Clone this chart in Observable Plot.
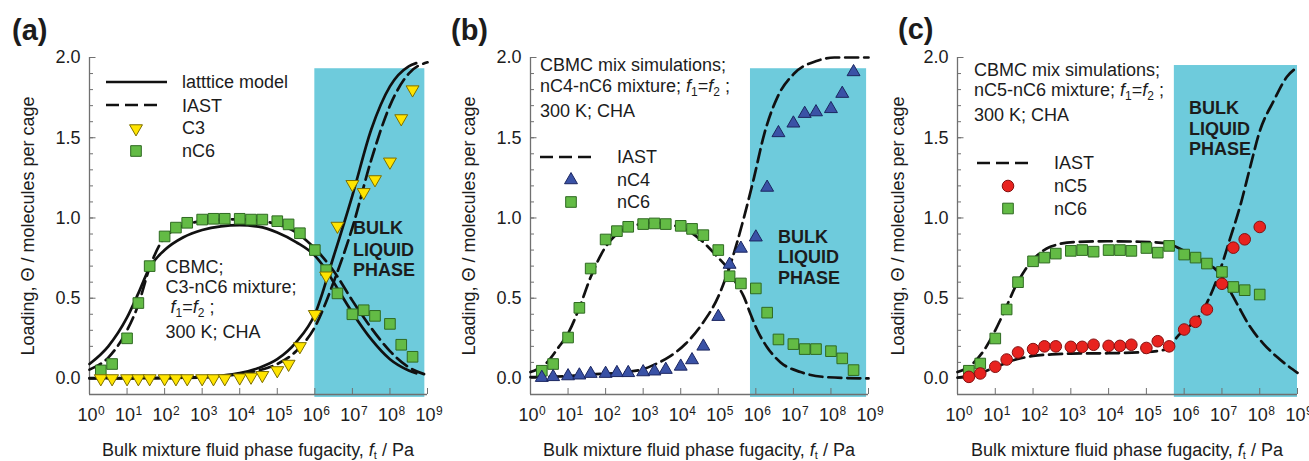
<!DOCTYPE html>
<html>
<head>
<meta charset="utf-8">
<script src="https://cdn.jsdelivr.net/npm/d3@7"></script>
<script src="https://cdn.jsdelivr.net/npm/@observablehq/plot@0.6"></script>
<style>
  body { margin: 0; background: #fff; }
  #wrap { position: relative; width: 1309px; height: 461px; overflow: hidden;
          font-family: "Liberation Sans", Arial, sans-serif; color: #1c1c1c; background: #fff; }
  .panel { position: absolute; top: 0; }
  .t { position: absolute; font-size: 18px; line-height: 18px; white-space: nowrap; }
  .b { font-weight: bold; }
  .lab { position: absolute; font-size: 29px; line-height: 29px; font-weight: bold; white-space: nowrap; }
  .rot { position: absolute; font-size: 18px; line-height: 18px; white-space: nowrap;
         transform: translate(-50%, -50%) rotate(-90deg); }
  .xt { position: absolute; font-size: 18px; line-height: 18px; white-space: nowrap; transform: translateX(-50%); }
  .xt sub { font-size: 11px; vertical-align: -3px; }
  sub { font-size: 12px; vertical-align: -4px; line-height: 0; }
  #ov { position: absolute; left: 0; top: 0; }
</style>
</head>
<body>
<div id="wrap">
  <div class="panel" id="pa" style="left:0px"></div>
  <div class="panel" id="pb" style="left:441px"></div>
  <div class="panel" id="pc" style="left:868px"></div>
</div>
<script>
// ---------- tick labels ----------
const decades = [0, 1, 2, 3, 4, 5, 6, 7, 8, 9];
const yMajor = [0.0, 0.5, 1.0, 1.5, 2.0];
const yMinor = [0.0, 0.1, 0.2, 0.3, 0.4, 0.5, 0.6, 0.7, 0.8, 0.9, 1.0, 1.1, 1.2, 1.3, 1.4, 1.5, 1.6, 1.7, 1.8, 1.9, 2.0];

// ---------- simulation fugacities (Pa) ----------
const fugAB = [2, 4, 10, 20, 40, 100, 200, 400, 1e3, 2e3, 4e3, 1e4, 2e4, 4e4, 1e5, 2e5, 4e5, 1e6, 2e6, 4e6, 1e7, 2e7, 4e7, 1e8, 2e8, 4e8];
const fugC = [2, 4, 10, 20, 40, 100, 200, 400, 1e3, 2e3, 4e3, 1e4, 2e4, 4e4, 1e5, 2e5, 4e5, 1e6, 2e6, 4e6, 1e7, 2e7, 4e7, 1e8];

// ---------- panel (a): C3-nC6 ----------
const aC3 = [0, 0, 0, 0, 0, 0, 0, 0, 0, 0, 0, 0.005, 0.01, 0.02, 0.05, 0.09, 0.20, 0.40, 0.64, 0.95, 1.21, 1.16, 1.24, 1.35, 1.62, 1.80];
const aC6 = [0.05, 0.09, 0.25, 0.47, 0.70, 0.885, 0.94, 0.97, 0.99, 0.995, 0.995, 0.995, 0.99, 0.99, 0.98, 0.96, 0.905, 0.80, 0.675, 0.53, 0.40, 0.425, 0.39, 0.34, 0.21, 0.135];
// curves: [log10(f), loading]
const aLatC6 = [[0,0.09],[0.5,0.2],[1,0.38],[1.3,0.53],[1.6,0.69],[2,0.80],[2.5,0.88],[3,0.925],[3.5,0.948],[4,0.955],[4.5,0.946],[5,0.91],[5.5,0.85],[6,0.765],[6.37,0.65],[6.5,0.6],[7,0.41],[7.5,0.245],[8,0.12],[8.5,0.05],[8.7,0.032]];
const aIastC6 = [[0,0.055],[0.5,0.13],[1,0.30],[1.3,0.46],[1.6,0.69],[2,0.88],[2.3,0.93],[2.6,0.96],[3,0.982],[3.5,0.99],[4,0.992],[4.5,0.985],[5,0.96],[5.5,0.91],[6,0.81],[6.5,0.67],[7,0.485],[7.5,0.315],[8,0.17],[8.5,0.07],[9,0.02]];
const aLatC3 = [[0,0.002],[1,0.002],[2,0.003],[3,0.008],[3.5,0.017],[4,0.033],[4.5,0.065],[5,0.12],[5.5,0.225],[6,0.40],[6.5,0.76],[7,1.14],[7.5,1.55],[8,1.82],[8.5,1.945],[8.7,1.965]];
const aIastC3 = [[0,0.0],[2,0.002],[3,0.006],[3.5,0.013],[4,0.027],[4.5,0.05],[5,0.09],[5.5,0.17],[6,0.32],[6.5,0.60],[7,0.94],[7.5,1.36],[8,1.70],[8.5,1.90],[9,1.97]];
const aLiquid = {x1: 1e6, x2: 8.5e8, y1: -0.118, y2: 1.93};

// ---------- panel (b): nC4-nC6 ----------
const bC4 = [0.005, 0.01, 0.015, 0.02, 0.03, 0.03, 0.035, 0.035, 0.04, 0.045, 0.055, 0.075, 0.115, 0.20, 0.385, 0.71, 0.81, 0.88, 1.19, 1.53, 1.59, 1.65, 1.66, 1.68, 1.775, 1.91];
const bC6 = [0.048, 0.09, 0.255, 0.44, 0.685, 0.866, 0.918, 0.945, 0.962, 0.966, 0.962, 0.951, 0.932, 0.893, 0.80, 0.637, 0.592, 0.561, 0.41, 0.243, 0.214, 0.183, 0.183, 0.17, 0.125, 0.052];
const bIastC6 = [[0,0.04],[0.4,0.09],[0.75,0.195],[1,0.28],[1.3,0.44],[1.6,0.63],[2,0.82],[2.3,0.9],[2.8,0.955],[3.3,0.97],[3.8,0.955],[4.2,0.92],[4.5,0.87],[4.97,0.76],[5.15,0.715],[5.28,0.68],[5.46,0.6],[5.68,0.51],[5.86,0.40],[6.04,0.30],[6.3,0.195],[6.66,0.10],[7.19,0.04],[7.9,0.008],[9,0.0]];
const bIastC4 = [[0,0.008],[1,0.015],[1.64,0.025],[2.53,0.04],[3,0.058],[3.24,0.08],[3.68,0.133],[4.13,0.216],[4.57,0.34],[5,0.51],[5.28,0.68],[5.68,1.0],[5.95,1.25],[6.22,1.52],[6.57,1.75],[7.02,1.9],[7.64,1.98],[8.09,2.0],[9,2.0]];
const bLiquid = {x1: 7.2e5, x2: 8.9e8, y1: -0.118, y2: 1.93};

// ---------- panel (c): nC5-nC6 ----------
const cC5 = [0.01, 0.031, 0.073, 0.118, 0.162, 0.183, 0.20, 0.20, 0.197, 0.197, 0.21, 0.203, 0.203, 0.21, 0.19, 0.232, 0.20, 0.305, 0.353, 0.43, 0.59, 0.815, 0.867, 0.944];
const cC6 = [0.048, 0.093, 0.249, 0.43, 0.60, 0.73, 0.753, 0.778, 0.795, 0.80, 0.79, 0.80, 0.80, 0.795, 0.813, 0.784, 0.826, 0.772, 0.753, 0.716, 0.664, 0.57, 0.55, 0.523];
const cIastC6 = [[0,0.04],[0.34,0.08],[0.7,0.175],[1,0.3],[1.27,0.434],[1.53,0.57],[1.84,0.694],[2.1,0.765],[2.46,0.82],[3.08,0.85],[3.96,0.855],[4.84,0.852],[5.55,0.843],[5.81,0.818],[6.16,0.775],[6.56,0.72],[6.9,0.665],[7.13,0.58],[7.4,0.465],[7.75,0.32],[8.1,0.216],[8.46,0.133],[9,0.035]];
const cIastC5 = [[0,0.005],[0.5,0.025],[1,0.07],[1.5,0.115],[2,0.14],[2.5,0.15],[3,0.155],[4,0.157],[5,0.165],[5.6,0.185],[5.81,0.258],[6,0.30],[6.3,0.36],[6.6,0.47],[6.9,0.64],[7.2,0.86],[7.5,1.09],[7.75,1.32],[8,1.54],[8.37,1.73],[8.72,1.88],[9,1.94]];
const cLiquid = {x1: 5.5e5, x2: 1e9, y1: -0.118, y2: 1.95};

// ---------- styles ----------
const CYAN = "#6ecbdc";
const AXIS = "#707070";
const INK = "#1c1c1c";
const GREEN = {fill: "#63bb45", stroke: "#2f6a22"};
const YELLOW = {fill: "#ffe400", stroke: "#7d6f00"};
const BLUE = {fill: "#3a52a6", stroke: "#1b2660"};
const RED = {fill: "#e8231f", stroke: "#851010"};
const DASH = "13,6";
const LW = 2.7;

function curve(data, dashed) {
  return Plot.line(data, {x: d => 10 ** d[0], y: d => d[1], curve: "monotone-x",
    stroke: "#111", strokeWidth: LW, strokeDasharray: dashed ? DASH : null});
}
function pts(xs, ys, sym, col, r, rot) {
  const rows = xs.map((x, i) => ({x, y: ys[i]}));
  return Plot.dot(rows, {x: "x", y: "y", symbol: sym, r, fill: col.fill, stroke: col.stroke,
    strokeWidth: 1, rotate: rot || 0});
}

function makePanel(width, marginRight, liquid, marks) {
  return Plot.plot({
    width, height: 461,
    marginLeft: 89, marginRight, marginTop: 57, marginBottom: 67,
    style: {fontFamily: "'Liberation Sans', Arial, sans-serif", fontSize: "18px",
            background: "transparent", overflow: "visible", color: INK},
    x: {type: "log", domain: [1, 1e9]},
    y: {domain: [-0.1, 2.0]},
    marks: [
      Plot.rect([liquid], {x1: "x1", x2: "x2", y1: "y1", y2: "y2", fill: CYAN}),
      Plot.ruleX([1], {stroke: AXIS, strokeWidth: 1.3}),
      Plot.ruleY([-0.1], {stroke: AXIS, strokeWidth: 1.3}),
      Plot.axisY(yMinor, {tickSize: -4, fill: "none", stroke: AXIS, label: null}),
      Plot.axisY(yMajor, {tickSize: -6.5, stroke: AXIS, fill: INK, tickPadding: 15.5,
        tickFormat: d3.format(".1f"), fontSize: 18, label: null}),
      Plot.axisX(decades.map(d => 10 ** d), {tickSize: -6, fill: "none", stroke: AXIS, label: null}),
      Plot.text(decades, {x: d => 10 ** d, y: -0.1, text: () => "10", textAnchor: "end",
        lineAnchor: "bottom", dx: 8, dy: 26.5, fontSize: 18, fill: INK}),
      Plot.text(decades, {x: d => 10 ** d, y: -0.1, text: d => String(d), textAnchor: "start",
        lineAnchor: "bottom", dx: 8.5, dy: 20, fontSize: 12, fill: INK}),
      ...marks
    ]
  });
}

document.getElementById("pa").appendChild(makePanel(436, 9, aLiquid, [
  curve(aLatC6, false), curve(aLatC3, false),
  curve(aIastC6, true), curve(aIastC3, true),
  pts(fugAB, aC6, "square", GREEN, 6.0),
  pts(fugAB, aC3, "triangle", YELLOW, 4.8, 180)
]));
document.getElementById("pb").appendChild(makePanel(436, 9, bLiquid, [
  curve(bIastC6, true), curve(bIastC4, true),
  pts(fugAB, bC6, "square", GREEN, 6.0),
  pts(fugAB, bC4, "triangle", BLUE, 4.8)
]));
document.getElementById("pc").appendChild(makePanel(441, 12, cLiquid, [
  curve(cIastC6, true), curve(cIastC5, true),
  pts(fugC, cC6, "square", GREEN, 6.0),
  pts(fugC, cC5, "circle", RED, 5.8)
]));

// ---------- text overlays ----------
const wrap = document.getElementById("wrap");
function add(cls, html, left, top) {
  const d = document.createElement("div");
  d.className = cls; d.innerHTML = html;
  d.style.left = left + "px"; d.style.top = top + "px";
  wrap.appendChild(d);
  return d;
}
const T = (html, left, cy, bold) => add("t" + (bold ? " b" : ""), html, left, cy - 8.8);
const ff = "<i>f</i><sub>1</sub>=<i>f</i><sub>2</sub> ;";
const xTitle = "Bulk mixture fluid phase fugacity, <i>f</i><sub>t</sub> / Pa";
const yTitle = "Loading, Θ / molecules per cage";

// panel letters
add("lab", "(a)", 12, 15.5);
add("lab", "(b)", 451, 15.5);
add("lab", "(c)", 898, 15);

// axis titles
[[258, 28], [699, 469], [1127, 897.5]].forEach(([cx, ry]) => {
  add("xt", xTitle, cx, 441);
  add("rot", yTitle, ry, 226);
});

// panel (a)
T("latttice model", 182, 82);
T("IAST", 182, 105.5);
T("C3", 182, 128);
T("nC6", 182, 151);
T("CBMC;", 165.5, 267);
T("C3-nC6 mixture;", 165.5, 287);
T("&nbsp;" + ff, 165.5, 307);
T("300 K; CHA", 165.5, 332);
T("BULK", 353, 228, true);
T("LIQUID", 353, 249.5, true);
T("PHASE", 353, 270, true);

// panel (b)
T("CBMC mix simulations;", 540, 65);
T("nC4-nC6 mixture; " + ff, 540, 85.5);
T("300 K; CHA", 540, 110.5);
T("IAST", 617, 157);
T("nC4", 617, 180);
T("nC6", 617, 202);
T("BULK", 778, 236.5, true);
T("LIQUID", 778, 257, true);
T("PHASE", 778, 277.5, true);

// panel (c)
T("CBMC mix simulations;", 974, 69.5);
T("nC5-nC6 mixture; " + ff, 974, 90);
T("300 K; CHA", 974, 115);
T("IAST", 1054, 163);
T("nC5", 1054, 186);
T("nC6", 1054, 208.5);
T("BULK", 1189, 107.5, true);
T("LIQUID", 1189, 128.5, true);
T("PHASE", 1189, 149, true);

// ---------- legend swatches ----------
const ov = d3.select(wrap).append("svg").attr("id", "ov").attr("width", 1309).attr("height", 461);
const legLines = [
  {x1: 106, x2: 167, y: 82, dash: null},
  {x1: 106, x2: 162, y: 105, dash: DASH},
  {x1: 540, x2: 595, y: 157, dash: DASH},
  {x1: 977, x2: 1033, y: 163, dash: DASH}
];
ov.selectAll("line").data(legLines).join("line")
  .attr("x1", d => d.x1).attr("x2", d => d.x2).attr("y1", d => d.y).attr("y2", d => d.y)
  .attr("stroke", "#111").attr("stroke-width", LW).attr("stroke-dasharray", d => d.dash);
const legSyms = [
  {x: 136, y: 128.5, type: d3.symbolTriangle, r: 4.8, rot: 180, col: YELLOW},
  {x: 136, y: 151, type: d3.symbolSquare, r: 6.0, rot: 0, col: GREEN},
  {x: 571, y: 180, type: d3.symbolTriangle, r: 4.8, rot: 0, col: BLUE},
  {x: 571, y: 202, type: d3.symbolSquare, r: 6.0, rot: 0, col: GREEN},
  {x: 1008, y: 186, type: d3.symbolCircle, r: 5.8, rot: 0, col: RED},
  {x: 1008, y: 208.5, type: d3.symbolSquare, r: 6.0, rot: 0, col: GREEN}
];
ov.selectAll("path").data(legSyms).join("path")
  .attr("d", d => d3.symbol(d.type, Math.PI * d.r * d.r)())
  .attr("transform", d => `translate(${d.x},${d.y}) rotate(${d.rot})`)
  .attr("fill", d => d.col.fill).attr("stroke", d => d.col.stroke).attr("stroke-width", 1);
</script>
</body>
</html>
